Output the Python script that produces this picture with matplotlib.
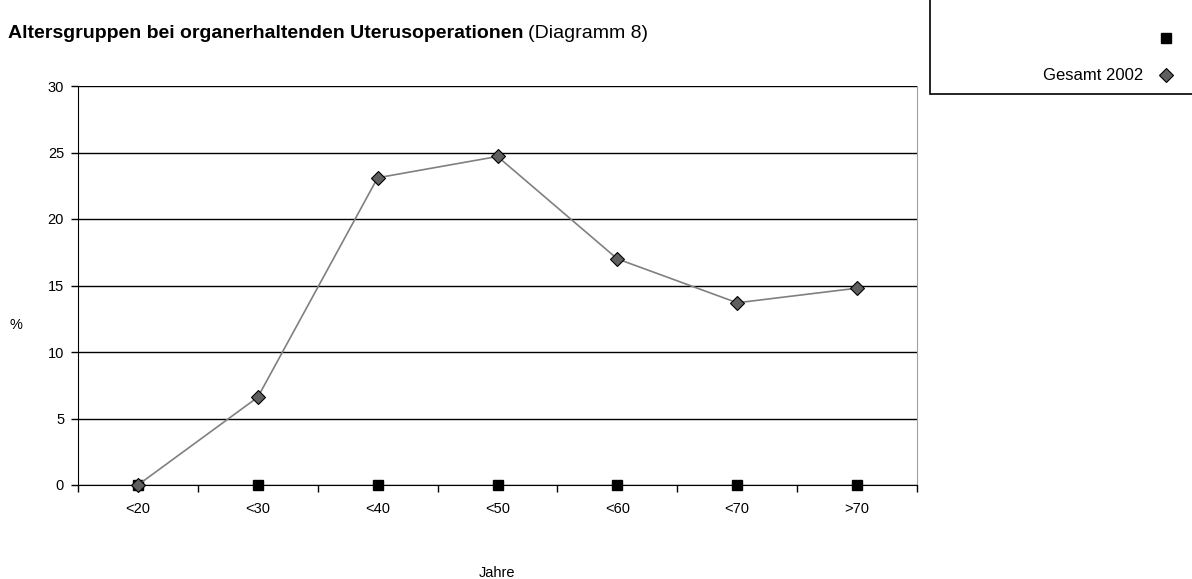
import matplotlib.pyplot as plt
from matplotlib.lines import Line2D
from matplotlib.patches import Rectangle

plt.rcParams['font.family'] = ['Liberation Sans', 'DejaVu Sans']

# Daten
kategorien = ['<20', '<30', '<40', '<50', '<60', '<70', '>70']
gesamt_2002 = [0, 6.6, 23.1, 24.7, 17.0, 13.7, 14.8]
leer_serie = [0, 0, 0, 0, 0, 0, 0]
y_ticks = [0, 5, 10, 15, 20, 25, 30]

W, H = 1192, 579
fig = plt.figure(figsize=(W / 100, H / 100), dpi=100)
ax = fig.add_axes([78 / W, 1 - 485 / H, 839 / W, 399 / H])


def px(x, y):
    # Pixel (oben links) -> Figurkoordinaten
    return x / W, 1 - y / H


x = list(range(len(kategorien)))

# Serie ohne Namen (schwarze Quadrate auf 0)
ax.plot(x, leer_serie, linestyle='none', marker='s', markersize=7,
        color='black', clip_on=False, zorder=3)
# Gesamt 2002
ax.plot(x, gesamt_2002, color='#808080', linewidth=1.2, marker='D',
        markersize=7, markerfacecolor='#5f5f5f', markeredgecolor='black',
        markeredgewidth=0.8, clip_on=False, zorder=4)

ax.set_xlim(-0.5, len(kategorien) - 0.5)
ax.set_ylim(0, 30)
ax.set_yticks(y_ticks)
ax.set_xticks(x)
ax.set_xticklabels(kategorien, fontsize=10.5)
ax.tick_params(axis='x', length=0, pad=12)
ax.tick_params(axis='y', direction='out', length=5, labelsize=10.5, width=1, pad=5)
# Teilstriche zwischen den Kategorien
ax.set_xticks([i - 0.5 for i in range(len(kategorien) + 1)], minor=True)
ax.tick_params(axis='x', which='minor', direction='out', length=5, width=1)

ax.grid(axis='y', color='black', linewidth=1)
ax.set_axisbelow(True)
ax.spines['top'].set_visible(False)
ax.spines['right'].set_color('#a0a0a0')
ax.spines['left'].set_color('black')
ax.spines['bottom'].set_color('black')

fig.text(*px(10, 325), '%', fontsize=10.5, va='center')
fig.text(*px(497, 573), 'Jahre', fontsize=10.5, ha='center', va='center')

# Titel: fett + normal
titel = fig.text(*px(8, 38), 'Altersgruppen bei organerhaltenden Uterusoperationen',
                 fontsize=14, fontweight='bold', va='baseline')
fig.canvas.draw()
bb = titel.get_window_extent()
fig.text((bb.x1 + 5) / W, 1 - 38 / H, '(Diagramm 8)', fontsize=14, va='baseline')

# Legende (Rahmen rechts oben)
fig.patches.append(Rectangle(px(930, 94), 300 / W, 110 / H, transform=fig.transFigure,
                             facecolor='white', edgecolor='black', linewidth=1.2,
                             clip_on=False))
fig.add_artist(Line2D([px(1166, 38)[0]], [px(1166, 38)[1]], linestyle='none',
                      marker='s', markersize=7, color='black'))
fig.add_artist(Line2D([px(1166, 75)[0]], [px(1166, 75)[1]], linestyle='none',
                      marker='D', markersize=7, markerfacecolor='#5f5f5f',
                      markeredgecolor='black', markeredgewidth=0.8))
fig.text(*px(1143, 80), 'Gesamt 2002', fontsize=12, ha='right', va='baseline')

fig.savefig('out.png', dpi=100)
